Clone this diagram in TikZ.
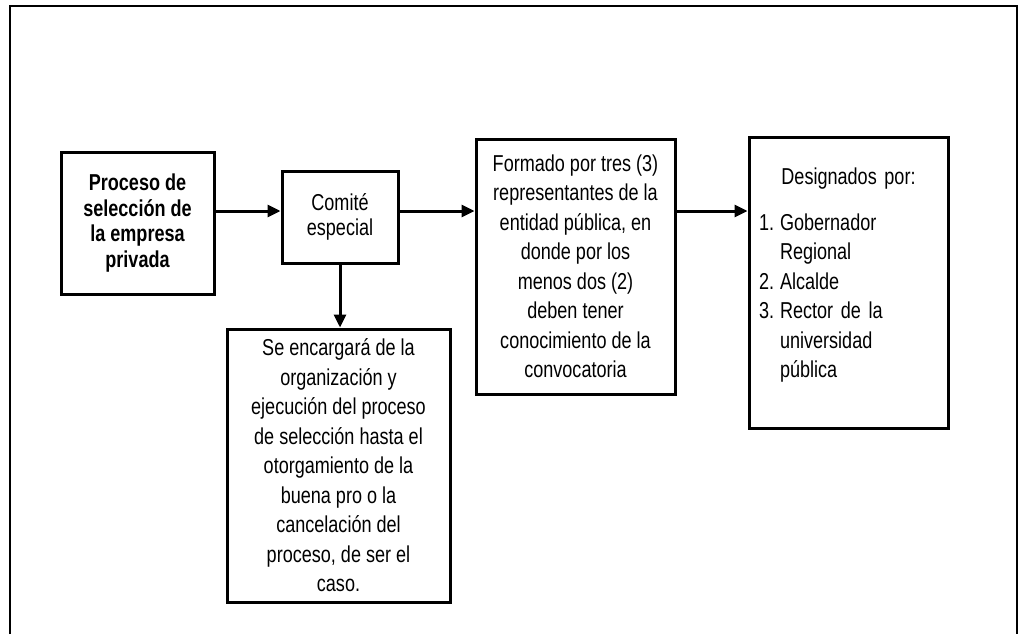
\documentclass[tikz,border=0pt]{standalone}
\usepackage{fontspec}
\setmainfont{Liberation Sans}[FakeStretch=0.785]
\usetikzlibrary{arrows.meta}
\begin{document}
\begin{tikzpicture}[x=1pt,y=-1pt,
    caja/.style={draw,line width=3pt,inner sep=0pt,align=center,font=\fontsize{23}{29.5}\selectfont},
    flecha/.style={-{Triangle[length=13pt,width=12pt]},line width=3pt}]
    \useasboundingbox(0,0)rectangle(1019,634);
    \draw[line width=2pt](10,634)--(10,6)--(1017,6)--(1017,634);
    \node[caja,minimum width=153,minimum height=142,font=\fontsize{23}{25.5}\selectfont\bfseries](proceso)at(137.5,223){Proceso de\\selección de\\la empresa\\privada};
    \node[caja,minimum width=116,minimum height=92,font=\fontsize{23}{25.5}\selectfont](comite)at(340,217){Comité\\especial};
    \node[caja,minimum width=199,minimum height=255](formado)at(575.5,266.5){Formado por tres (3)\\representantes de la\\entidad pública, en\\donde por los\\menos dos (2)\\deben tener\\conocimiento de la\\convocatoria};
    \node[caja,minimum width=199,minimum height=291,text width=179,align=left](designados)at(848.5,282.5){\makebox[179pt]{Designados por:}\\[16pt]
      \makebox[21pt][l]{1.}Gobernador\\\hspace*{21pt}Regional\\
      \makebox[21pt][l]{2.}Alcalde\\
      \makebox[21pt][l]{3.}Rector de la\\\hspace*{21pt}universidad\\\hspace*{21pt}pública\\[-10pt]\mbox{}};
    \node[caja,minimum width=223,minimum height=273](encargo)at(338.5,465.5){Se encargará de la\\organización y\\ejecución del proceso\\de selección hasta el\\otorgamiento de la\\buena pro o la\\cancelación del\\proceso, de ser el\\caso.};
    \coordinate(nivel)at(0,211);
    \draw[flecha](proceso.east|-nivel)--(comite.west|-nivel);
    \draw[flecha](comite.east|-nivel)--(formado.west|-nivel);
    \draw[flecha](formado.east|-nivel)--(designados.west|-nivel);
    \draw[flecha](comite.south)--(comite.south|-encargo.north);
\end{tikzpicture}
\end{document}
